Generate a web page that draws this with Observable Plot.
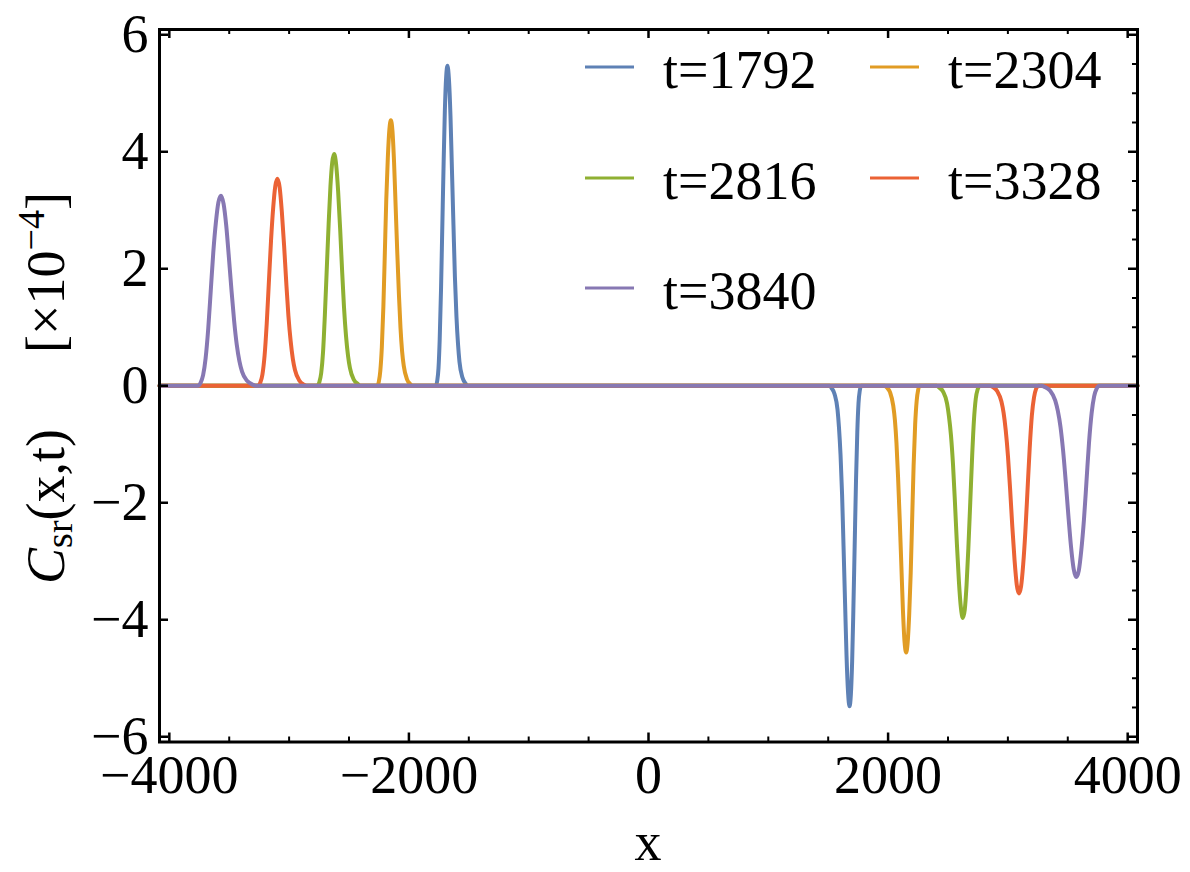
<!DOCTYPE html>
<html><head><meta charset="utf-8">
<script src="https://cdn.jsdelivr.net/npm/d3@7"></script>
<script src="https://cdn.jsdelivr.net/npm/@observablehq/plot@0.6"></script>
<style>body{margin:0;background:#fff} #chart svg{display:block}</style>
</head><body><div id="chart"></div>
<script>
// ---- data (values in units of 1e-4) ----
const seriesT = [1792, 2304, 2816, 3328, 3840];
const seriesColors = ["#5E81B5", "#E19C24", "#8FB032", "#EB6235", "#8778B3"];

const xs1792 = [-4082, -1775, -1764, -1753, -1743, -1732, -1721, -1710, -1700, -1689, -1678, -1666, -1653, -1641, -1628, -1616, -1603, -1590, -1578, -1553, -1528, -1513, 1513, 1528, 1553, 1578, 1590, 1603, 1616, 1628, 1641, 1653, 1666, 1678, 1689, 1700, 1710, 1721, 1732, 1743, 1753, 1764, 1775, 4082];
const ys1792 = [0, 0, 0.08, 0.30, 0.79, 1.64, 2.74, 3.83, 4.70, 5.28, 5.47, 5.24, 4.61, 3.71, 2.74, 1.86, 1.18, 0.71, 0.41, 0.14, 0.04, 0, 0, -0.04, -0.14, -0.41, -0.71, -1.18, -1.86, -2.74, -3.72, -4.61, -5.25, -5.48, -5.29, -4.71, -3.84, -2.74, -1.64, -0.79, -0.30, -0.08, 0, 0];

const xs2304 = [-4082, -2263, -2251, -2239, -2226, -2213, -2201, -2189, -2176, -2163, -2151, -2137, -2124, -2111, -2097, -2083, -2070, -2057, -2043, -2016, -1989, -1973, 1973, 1989, 2016, 2043, 2057, 2070, 2083, 2097, 2111, 2124, 2137, 2151, 2163, 2176, 2189, 2201, 2213, 2226, 2239, 2251, 2263, 4082];
const ys2304 = [0, 0, 0.07, 0.25, 0.66, 1.36, 2.27, 3.18, 3.90, 4.38, 4.54, 4.35, 3.82, 3.08, 2.27, 1.54, 0.98, 0.59, 0.34, 0.11, 0.03, 0, 0, -0.03, -0.11, -0.34, -0.59, -0.98, -1.55, -2.28, -3.09, -3.84, -4.37, -4.56, -4.40, -3.92, -3.19, -2.28, -1.37, -0.66, -0.25, -0.07, 0, 0];

const xs2816 = [-4082, -2764, -2748, -2732, -2717, -2702, -2686, -2670, -2655, -2640, -2624, -2608, -2591, -2574, -2558, -2542, -2525, -2508, -2492, -2459, -2426, -2406, 2406, 2426, 2459, 2492, 2508, 2525, 2542, 2558, 2574, 2591, 2608, 2624, 2640, 2655, 2670, 2686, 2702, 2717, 2732, 2748, 2764, 4082];
const ys2816 = [0, 0, 0.06, 0.22, 0.57, 1.19, 1.98, 2.77, 3.41, 3.82, 3.96, 3.79, 3.33, 2.68, 1.98, 1.35, 0.85, 0.51, 0.30, 0.10, 0.03, 0, 0, -0.03, -0.10, -0.30, -0.52, -0.85, -1.35, -1.99, -2.69, -3.34, -3.80, -3.97, -3.83, -3.41, -2.78, -1.99, -1.19, -0.58, -0.22, -0.06, 0, 0];

const xs3328 = [-4082, -3259, -3241, -3223, -3205, -3187, -3169, -3151, -3133, -3115, -3097, -3079, -3061, -3042, -3024, -3006, -2987, -2969, -2951, -2915, -2878, -2856, 2851, 2873, 2910, 2946, 2964, 2982, 3001, 3019, 3037, 3056, 3074, 3092, 3110, 3128, 3146, 3164, 3182, 3200, 3218, 3236, 3254, 4082];
const ys3328 = [0, 0, 0.05, 0.19, 0.51, 1.06, 1.77, 2.48, 3.04, 3.42, 3.54, 3.39, 2.98, 2.40, 1.77, 1.20, 0.76, 0.46, 0.27, 0.09, 0.02, 0, 0, -0.02, -0.09, -0.27, -0.46, -0.76, -1.21, -1.78, -2.41, -2.99, -3.40, -3.55, -3.43, -3.05, -2.49, -1.78, -1.07, -0.51, -0.20, -0.05, 0, 0];

const xs3840 = [-4082, -3760, -3739, -3718, -3697, -3675, -3654, -3633, -3611, -3590, -3569, -3547, -3525, -3503, -3481, -3459, -3437, -3415, -3393, -3349, -3305, -3279, 3281, 3307, 3351, 3395, 3417, 3439, 3461, 3483, 3505, 3527, 3549, 3571, 3592, 3613, 3635, 3656, 3677, 3699, 3720, 3741, 3762, 4082];
const ys3840 = [0, 0, 0.05, 0.18, 0.47, 0.98, 1.63, 2.28, 2.80, 3.14, 3.25, 3.11, 2.74, 2.20, 1.63, 1.11, 0.70, 0.42, 0.24, 0.08, 0.02, 0, 0, -0.02, -0.08, -0.25, -0.43, -0.70, -1.11, -1.64, -2.22, -2.75, -3.13, -3.27, -3.16, -2.81, -2.29, -1.64, -0.98, -0.47, -0.18, -0.05, 0, 0];

const xTicksMajor = [-4000, -2000, 0, 2000, 4000];
const xTicksMinor = [-3500, -3000, -2500, -1500, -1000, -500, 500, 1000, 1500, 2500, 3000, 3500];
const yTicksMajor = [-6, -4, -2, 0, 2, 4, 6];
const yTicksMinor = [-5.5, -5, -4.5, -3.5, -3, -2.5, -1.5, -1, -0.5, 0.5, 1, 1.5, 2.5, 3, 3.5, 4.5, 5, 5.5];
const xDomain = [-4082, 4082];
const yDomain = [-6.09, 6.09];

// ---- layout ----
const W = 1190, H = 872;
const mL = 159, mR = 53, mT = 29, mB = 130.5;
const innerW = W - mL - mR, innerH = H - mT - mB;
const FONT = "Liberation Serif, Times New Roman, serif";
const FS = 54;
const majorLen = 9, minorLen = 5;

const xsAll = [xs1792, xs2304, xs2816, xs3328, xs3840];
const ysAll = [ys1792, ys2304, ys2816, ys3328, ys3840];
const labels = seriesT.map(t => "t=" + t);
const rows = seriesT.flatMap((t, i) => xsAll[i].map((x, j) => ({x, y: ysAll[i][j], s: labels[i]})));

const fmt = d3.format("d");

const plot = Plot.plot({
  width: W, height: H,
  marginLeft: mL, marginRight: mR, marginTop: mT, marginBottom: mB,
  style: {fontFamily: FONT, fontSize: FS + "px", background: "white", color: "black"},
  x: {domain: xDomain},
  y: {domain: yDomain},
  color: {domain: labels, range: seriesColors},
  marks: [
    Plot.line(rows, {x: "x", y: "y", z: "s", stroke: "s", curve: "monotone-x", strokeWidth: 4, strokeLinejoin: "round"}),
    // bottom ticks
    Plot.tickX(xTicksMajor, {x: d => d, insetTop: innerH - majorLen, stroke: "black", strokeWidth: 2.5}),
    Plot.tickX(xTicksMinor, {x: d => d, insetTop: innerH - minorLen, stroke: "black", strokeWidth: 2}),
    // top ticks
    Plot.tickX(xTicksMajor, {x: d => d, insetBottom: innerH - majorLen, stroke: "black", strokeWidth: 2.5}),
    Plot.tickX(xTicksMinor, {x: d => d, insetBottom: innerH - minorLen, stroke: "black", strokeWidth: 2}),
    // left ticks (major only)
    Plot.tickY(yTicksMajor, {y: d => d, insetRight: innerW - majorLen, stroke: "black", strokeWidth: 2.5}),
    // right ticks
    Plot.tickY(yTicksMajor, {y: d => d, insetLeft: innerW - majorLen, stroke: "black", strokeWidth: 2.5}),
    Plot.tickY(yTicksMinor, {y: d => d, insetLeft: innerW - minorLen, stroke: "black", strokeWidth: 2}),
    Plot.frame({stroke: "black", strokeWidth: 3}),
    Plot.axisX({ticks: xTicksMajor, tickSize: 0, tickPadding: 13, tickFormat: fmt, fontSize: FS, label: null}),
    Plot.axisY({ticks: yTicksMajor, tickSize: 0, tickPadding: 11, tickFormat: fmt, fontSize: FS, label: null})
  ]
});

document.getElementById("chart").appendChild(plot);

// ---- labels & legend ----
const svg = d3.select(plot);
svg.append("text")
  .attr("x", 648).attr("y", 860)
  .attr("text-anchor", "middle")
  .attr("font-family", FONT).attr("font-size", FS)
  .attr("fill", "black")
  .text("x");

const lab = svg.append("text")
  .attr("transform", "translate(64,388) rotate(-90)")
  .attr("text-anchor", "middle")
  .attr("font-family", FONT).attr("font-size", FS)
  .attr("fill", "black");
lab.append("tspan").attr("font-style", "italic").text("C");
lab.append("tspan").attr("font-size", 38).attr("dy", 8).text("sr");
lab.append("tspan").attr("dy", -8).text("(x,t)");
lab.append("tspan").attr("dx", 76).text("[×10");
lab.append("tspan").attr("font-size", 38).attr("dy", -20).text("−4");
lab.append("tspan").attr("dy", 20).text("]");

const legendCols = [585, 870];
const legendRows = [67, 178, 288];
const leg = svg.append("g");
labels.forEach((l, i) => {
  const cx = legendCols[i % 2], cy = legendRows[Math.floor(i / 2)];
  leg.append("line").attr("x1", cx).attr("x2", cx + 49).attr("y1", cy).attr("y2", cy)
    .attr("stroke", seriesColors[i]).attr("stroke-width", 3);
  leg.append("text").attr("x", cx + 78).attr("y", cy + 21)
    .attr("text-anchor", "start")
    .attr("font-family", FONT).attr("font-size", FS).attr("fill", "black").text(l);
});
</script>
</body></html>
